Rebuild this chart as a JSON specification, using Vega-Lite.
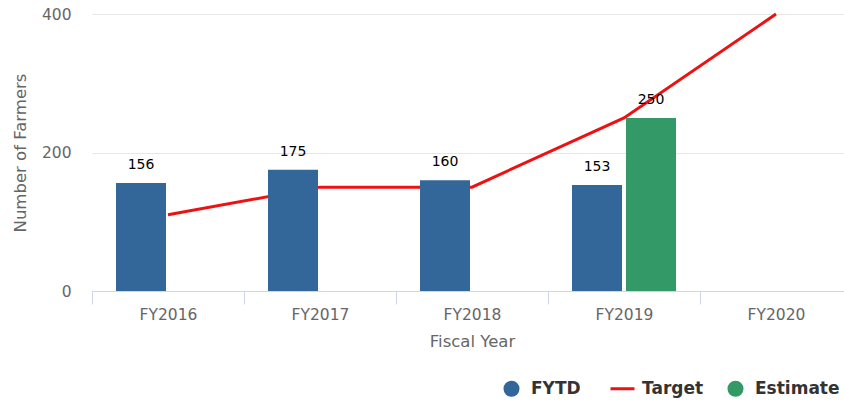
{
  "$schema": "https://vega.github.io/schema/vega-lite/v6.json",
  "width": 752,
  "height": 277,
  "autosize": {"type": "none"},
  "padding": {"left": 92, "top": 14, "right": 0, "bottom": 117},
  "background": "white",
  "config": {
    "font": "DejaVu Sans",
    "view": {"stroke": null}
  },
  "data": {
    "values": [
      {"year": "FY2016", "series": "FYTD", "value": 156},
      {"year": "FY2017", "series": "FYTD", "value": 175},
      {"year": "FY2018", "series": "FYTD", "value": 160},
      {"year": "FY2019", "series": "FYTD", "value": 153},
      {"year": "FY2019", "series": "Estimate", "value": 250},
      {"year": "FY2016", "series": "Target", "value": 110},
      {"year": "FY2017", "series": "Target", "value": 150},
      {"year": "FY2018", "series": "Target", "value": 150},
      {"year": "FY2019", "series": "Target", "value": 250},
      {"year": "FY2020", "series": "Target", "value": 400}
    ]
  },
  "encoding": {
    "x": {
      "field": "year",
      "type": "nominal",
      "scale": {"domain": ["FY2016", "FY2017", "FY2018", "FY2019", "FY2020"], "range": [0, 760], "paddingInner": 0, "paddingOuter": 0},
      "axis": {
        "title": "Fiscal Year",
        "labelAngle": 0,
        "tickBand": "extent",
        "domainColor": "#ccd6eb",
        "tickColor": "#ccd6eb",
        "tickSize": 13,
        "labelPadding": 3,
        "labelFontSize": 15.5,
        "labelColor": "#666666",
        "titleFontSize": 16.5,
        "titleFontWeight": "normal",
        "titleColor": "#666666",
        "titlePadding": 11,
        "grid": false
      }
    },
    "y": {
      "field": "value",
      "type": "quantitative",
      "scale": {"domain": [0, 400], "nice": false},
      "axis": {
        "title": "Number of Farmers",
        "values": [0, 200, 400],
        "domain": false,
        "ticks": false,
        "labelPadding": 21,
        "labelFontSize": 15.5,
        "labelColor": "#666666",
        "titleFontSize": 16.5,
        "titleFontWeight": "normal",
        "titleColor": "#666666",
        "titlePadding": 13,
        "gridColor": "#e6e6e6"
      }
    },
    "color": {
      "field": "series",
      "type": "nominal",
      "scale": {"domain": ["FYTD", "Target", "Estimate"], "range": ["#336699", "#ee1111", "#339966"]},
      "legend": {
        "title": null,
        "orient": "none",
        "direction": "horizontal",
        "legendX": 411,
        "legendY": 366,
        "padding": 0,
        "symbolSize": 576,
        "labelOffset": 11,
        "columnPadding": 23,
        "labelFontSize": 17,
        "labelFontWeight": "bold",
        "labelColor": "#333333",
        "encode": {
          "symbols": {
            "update": {
              "shape": {"signal": "datum.value === 'Target' ? 'stroke' : 'circle'"},
              "size": {"signal": "datum.value === 'Target' ? 576 : 256"},
              "fill": {"signal": "datum.value === 'Target' ? 'transparent' : scale('color', datum.value)"},
              "stroke": {"signal": "scale('color', datum.value)"},
              "strokeWidth": {"signal": "datum.value === 'Target' ? 3 : 0"},
              "opacity": {"value": 1},
              "fillOpacity": {"value": 1},
              "strokeOpacity": {"value": 1}
            }
          }
        }
      }
    }
  },
  "layer": [
    {
      "transform": [{"filter": "datum.series === 'Target'"}],
      "mark": {"type": "line", "strokeWidth": 3}
    },
    {
      "transform": [{"filter": "datum.series !== 'Target'"}],
      "mark": {"type": "bar", "opacity": 1},
      "encoding": {
        "xOffset": {
          "field": "series",
          "type": "nominal",
          "scale": {"domain": ["FYTD", "Estimate"], "paddingInner": 0.074, "paddingOuter": 0.444}
        }
      }
    },
    {
      "transform": [{"filter": "datum.series !== 'Target'"}],
      "mark": {"type": "text", "baseline": "alphabetic", "dy": -14, "fontSize": 14, "color": "#000000"},
      "encoding": {
        "text": {"field": "value", "type": "quantitative"},
        "color": {"value": "#000000"},
        "xOffset": {
          "field": "series",
          "type": "nominal",
          "scale": {"domain": ["FYTD", "Estimate"], "paddingInner": 0.074, "paddingOuter": 0.444}
        }
      }
    }
  ]
}
